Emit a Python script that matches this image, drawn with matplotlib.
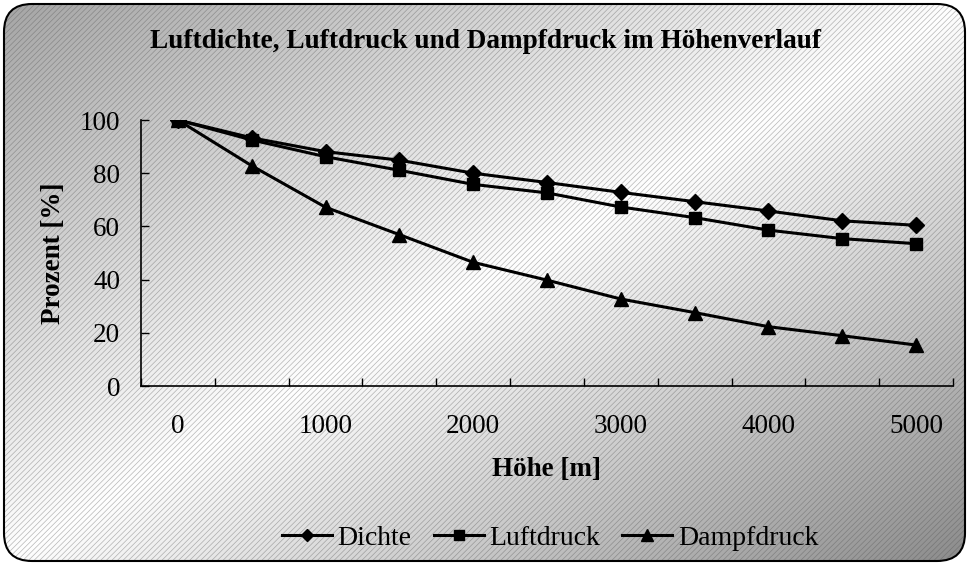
import numpy as np
import matplotlib
matplotlib.use("Agg")
import matplotlib.pyplot as plt
from matplotlib.patches import FancyBboxPatch

plt.rcParams['font.family'] = ['Liberation Serif', 'DejaVu Serif']
plt.rcParams['hatch.linewidth'] = 0.5

hoehe = [0, 500, 1000, 1500, 2000, 2500, 3000, 3500, 4000, 4500, 5000]
dichte = [100, 93.3, 88.1, 84.9, 80.0, 76.5, 72.8, 69.3, 65.8, 62.1, 60.4]
luftdruck = [100, 92.5, 86.2, 81.1, 75.8, 72.6, 67.3, 63.3, 58.6, 55.4, 53.5]
dampfdruck = [100, 82.8, 67.2, 56.9, 46.5, 39.8, 32.7, 27.6, 22.3, 18.9, 15.4]

W, H = 969, 564
fig = plt.figure(figsize=(W / 100, H / 100), dpi=100)
fig.patch.set_facecolor('white')

# background: gray corners, light diagonal band, hatched, rounded frame
bg = fig.add_axes([0, 0, 1, 1], zorder=-1)
bg.set_xlim(0, W)
bg.set_ylim(0, H)
bg.axis('off')
xx, yy = np.meshgrid(np.linspace(0, 1, 300), np.linspace(0, 1, 200))
u = (xx + yy) / 2  # yy=0 at top (image origin upper)
d = 2 * u - 1
shade = np.where(d < 0, 1 - 0.35 * (-d), 1 - 0.45 * d)
img = np.dstack([shade, shade, shade])
frame = FancyBboxPatch((4, 3), W - 8, H - 7, boxstyle="round,pad=0,rounding_size=28",
                       facecolor='none', edgecolor='black', linewidth=1.5, zorder=3)
bg.add_patch(frame)
im = bg.imshow(img, extent=[4, W - 4, 3, H - 4], origin='upper', aspect='auto', zorder=1)
im.set_clip_path(frame)
hatch = FancyBboxPatch((4, 3), W - 8, H - 7, boxstyle="round,pad=0,rounding_size=28",
                       facecolor='none', edgecolor=(0.3, 0.3, 0.3, 0.4), linewidth=0,
                       hatch='//////', zorder=2)
bg.add_patch(hatch)

ax = fig.add_axes([141 / W, 1 - 386 / H, (953 - 141) / W, (386 - 120) / H])
ax.set_facecolor('none')
x = np.arange(len(hoehe))
ax.plot(x, dichte, color='black', lw=2.2, marker='D', ms=8, label='Dichte')
ax.plot(x, luftdruck, color='black', lw=2.2, marker='s', ms=9, label='Luftdruck')
ax.plot(x, dampfdruck, color='black', lw=2.2, marker='^', ms=10, label='Dampfdruck')

ax.set_xlim(-0.5, len(hoehe) - 0.5)
ax.set_ylim(0, 100)
ax.spines['top'].set_visible(False)
ax.spines['right'].set_visible(False)
for s in ('left', 'bottom'):
    ax.spines[s].set_linewidth(1.2)

ax.set_xticks(np.arange(-0.5, len(hoehe), 1))
ax.set_xticklabels([])
ax.set_xticks(x[::2], minor=True)
ax.set_xticklabels([str(h) for h in hoehe[::2]], minor=True)
ax.tick_params(axis='x', which='major', direction='in', length=6, width=1)
ax.tick_params(axis='x', which='minor', length=0, pad=20, labelsize=19.5)
ax.set_yticks([0, 20, 40, 60, 80, 100])
ax.tick_params(axis='y', direction='in', length=6, width=1, pad=15, labelsize=19.5)

fig.text(486 / W, 1 - 42 / H, 'Luftdichte, Luftdruck und Dampfdruck im Höhenverlauf',
         ha='center', va='center', fontsize=19.6, fontweight='bold')
fig.text(547 / W, 1 - 470 / H, 'Höhe [m]', ha='center', va='center',
         fontsize=19.5, fontweight='bold')
fig.text(53 / W, 1 - 253 / H, 'Prozent [%]', ha='center', va='center',
         fontsize=19.5, fontweight='bold', rotation=90)

ax.legend(loc='center', bbox_to_anchor=(550 / W, 1 - 538 / H), bbox_transform=fig.transFigure,
          ncol=3, frameon=False, fontsize=20, handlelength=1.8, handletextpad=0.2,
          columnspacing=0.8, markerscale=0.8)

fig.savefig('out.png', dpi=100)
